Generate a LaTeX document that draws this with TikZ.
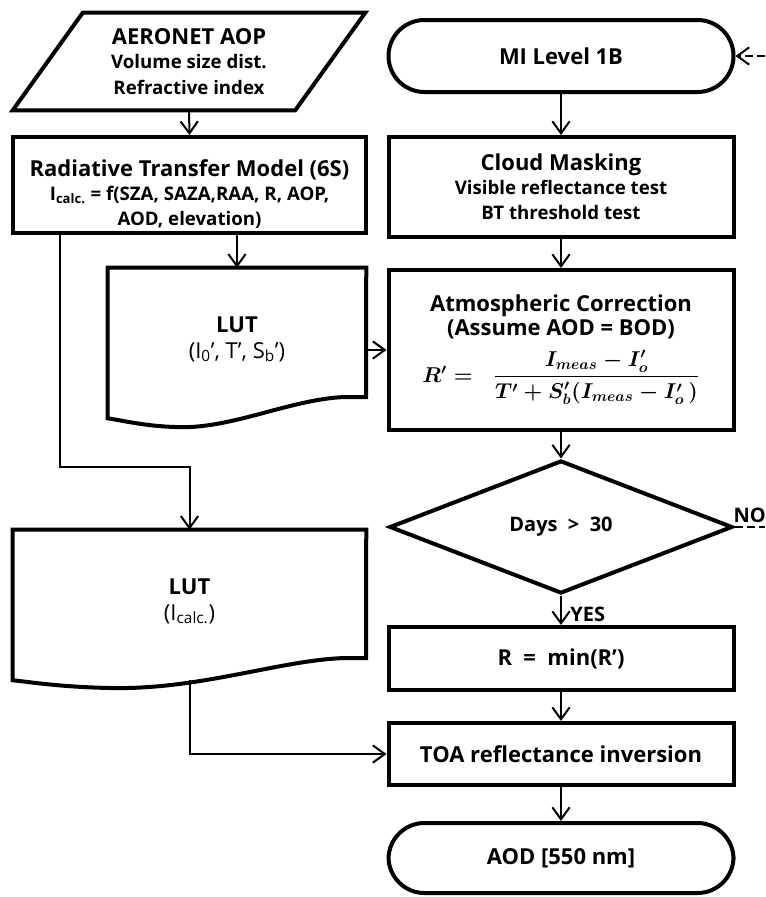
\documentclass[tikz,border=0pt]{standalone}
\usepackage{fontspec}
\setmainfont{Open Sans}
\usepackage{amsmath}
\usepackage{bm}
\usetikzlibrary{arrows.meta,shapes.geometric,calc}
\newcommand\FTitle{\bfseries\fontsize{16.5}{20}\selectfont}
\newcommand\FSub{\bfseries\fontsize{14}{18}\selectfont}
\newcommand\FLut{\mdseries\fontsize{16.5}{20}\selectfont}
\begin{document}
\begin{tikzpicture}[x=0.75pt,y=-0.75pt,
  frame/.style={draw, line width=3pt},
  box/.style={draw, line width=3pt, rectangle, inner sep=0pt, align=center, font=\FTitle},
  plain/.style={rectangle, inner sep=0pt, align=center, font=\FTitle},
  stadium/.style={box, rounded corners=27pt},
  arr/.style={line width=1.5pt, -{Straight Barb[length=9pt,width=13pt]}},
  dsh/.style={line width=1.5pt, dash pattern=on 6pt off 3pt}]
\useasboundingbox (0,0) rectangle (765,897);

% left column
\node[plain, minimum width=264pt, minimum height=72.75pt] (aero) at (189,61.5)
  {AERONET AOP\\[-2pt] {\FSub Volume size dist.}\\[-1pt] {\FSub Refractive index}};
\draw[frame, line join=miter] ($(aero.north west)+(70,0)$) -- (aero.north east)
  -- ($(aero.south east)+(-70,0)$) -- (aero.south west) -- cycle;

\node[box, minimum width=264.75pt, minimum height=72pt] (rtm) at (189.5,185) {};
\node[plain] (rtmtext) at ($(rtm.center)+(0,9)$)
  {Radiative Transfer Model (6S)\\[-2pt]
   {\FSub I\textsubscript{calc.} = f(SZA, SAZA,RAA, R, AOP,}\\[-1pt]
   {\FSub AOD, elevation)}};

\node[plain, minimum width=193.5pt, minimum height=112.5pt] (lut1) at (237,343)
  {LUT\\[-1pt] {\FLut (I\textsubscript{0}’, T’, S\textsubscript{b}’)}\\[-12pt]};
\draw[frame, line join=miter] (lut1.south west) -- (lut1.north west) -- (lut1.north east)
  -- (366,397) -- (345,397) .. controls (290,399) and (230,430) .. (175,427)
  .. controls (145,426) and (125,421) .. (lut1.south west) -- cycle;

\node[plain, minimum width=264.75pt, minimum height=112.5pt] (lut2) at (189.5,605)
  {LUT\\[-1pt] {\FLut (I\textsubscript{calc.})}\\[-12pt]};
\draw[frame, line join=miter] (lut2.south west) -- (lut2.north west) -- (lut2.north east)
  -- (366,658) -- (345,658) .. controls (280,660) and (200,690) .. (110,688)
  .. controls (60,687) and (30,682) .. (lut2.south west) -- cycle;

% right column
\node[stadium, minimum width=258.75pt, minimum height=54pt] (mi) at (561,56) {MI Level 1B};
\node[box, minimum width=258.75pt, minimum height=75pt] (cloud) at (561,187)
  {Cloud Masking\\[-2pt] {\FSub Visible reflectance test}\\[-1pt] {\FSub BT threshold test}};
\node[box, minimum width=258.75pt, minimum height=120pt] (atm) at (561,350)
  {Atmospheric Correction\\[-2pt] (Assume AOD = BOD)\\[7pt]
   \scalebox{1.12}{\fontsize{14.4}{17}\selectfont\boldmath$\bm{R'} =\;\; \dfrac{\bm{I_{meas}-I'_{o}}}{\bm{T'+S'_{b}(I_{meas}-I'_{o}\,)}}$}};
\node[diamond, draw, line width=3pt, inner sep=0pt, minimum width=257.25pt, minimum height=99.75pt,
  font=\bfseries\fontsize{15}{18}\selectfont] (days) at (561,527) {Days ~>~ 30};
\node[box, minimum width=258.75pt, minimum height=47.25pt] (rmin) at (561,658.5) {R ~=~ min(R’)};
\node[box, minimum width=258.75pt, minimum height=46.5pt] (toa) at (561,754) {TOA reflectance inversion};
\node[stadium, minimum width=258.75pt, minimum height=52.5pt] (aod) at (561,858) {AOD [550 nm]};

% connectors
\draw[arr] (aero.south) -- (rtm.north);
\draw[arr] (rtm.south -| lut1.north) -- (lut1.north);
\coordinate (bend) at (60,467);
\draw[arr] (rtm.south -| bend) -- (bend) -| (lut2.north);
\draw[arr] (lut1.east |- atm.west) -- (atm.west);
\draw[arr] (lut2.south) |- (toa.west);
\draw[arr] (mi) -- (cloud);
\draw[arr] (cloud) -- (atm);
\draw[arr] (atm) -- (days);
\draw[arr] (days.south) -- node[right, font=\bfseries\fontsize{15}{18}\selectfont, xshift=3pt, yshift=-3pt] {YES} (rmin.north);
\draw[arr] (rmin) -- (toa);
\draw[arr] (toa) -- (aod);
\coordinate (loopin) at (765,56);
\draw[dsh, -{Straight Barb[length=9pt,width=13pt]}] (loopin) -- (mi.east);
\coordinate (noout) at (765,527);
\draw[dsh] (days.east) -- node[above, font=\bfseries\fontsize{15}{18}\selectfont, xshift=0pt, yshift=-1pt] {NO} (noout);
\end{tikzpicture}
\end{document}
